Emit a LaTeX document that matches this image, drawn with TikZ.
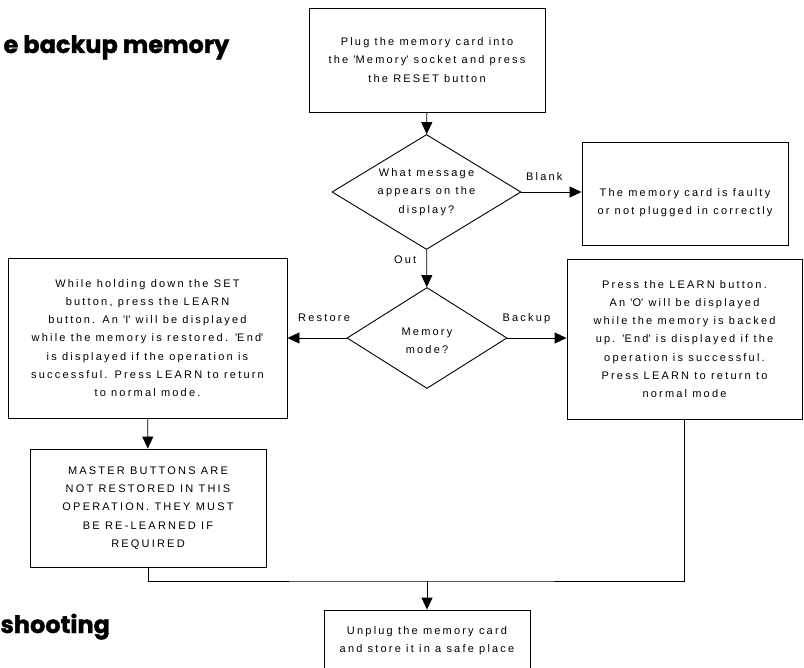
\documentclass[tikz,border=0pt]{standalone}
\usepackage{fontspec}
\setmainfont{Liberation Sans}[LetterSpace=20]
\newfontfamily\headfont{Poppins}[BoldFeatures={FakeBold=1.5}]
\usetikzlibrary{shapes.geometric,arrows.meta}

\begin{document}
\begin{tikzpicture}[x=1pt, y=-1pt,
    every node/.style={font=\fontsize{11}{18.3}\selectfont},
    stepbox/.style={draw, line width=0.9pt, align=center, inner sep=0pt},
    decision/.style={draw, diamond, line width=0.9pt, inner sep=0pt},
    flow/.style={line width=0.9pt, -{Triangle[length=12pt, width=11pt]}},
    lbl/.style={inner sep=0pt},
    heading/.style={font=\headfont\bfseries\fontsize{24}{28}\selectfont, anchor=base west}]
    \clip (0,0) rectangle (804,668);
    \node[heading] (title) at (0,53) {e backup memory};
    \node[heading] (trouble) at (-3,633) {shooting};

    \node[stepbox, minimum width=236, minimum height=104] (plug) at (427,60)
      {Plug the memory card into\\the \textquotesingle Memory\textquotesingle{} socket and press\\the RESET button};
    \node[decision, minimum width=189, minimum height=115,
      label={[align=center]center:What message\\appears on the\\display?}] (msg) at (426.5,192) {};
    \node[stepbox, minimum width=206, minimum height=103,
      label={[align=center, yshift=-9pt]center:The memory card is faulty\\or not plugged in correctly}] (faulty) at (685,193.5) {};
    \node[decision, minimum width=160, minimum height=101,
      label={[align=center, yshift=-3pt]center:Memory\\mode?}] (mode) at (427,338) {};
    \node[stepbox, minimum width=279, minimum height=160] (restore) at (147.5,338)
      {While holding down the SET\\button, press the LEARN\\button. An \textquotesingle I\textquotesingle{} will be displayed\\while the memory is restored. \textquotesingle End\textquotesingle\\is displayed if the operation is\\successful. Press LEARN to return\\to normal mode.};
    \node[stepbox, minimum width=235, minimum height=160] (backup) at (684.5,339)
      {Press the LEARN button.\\An \textquotesingle O\textquotesingle{} will be displayed\\while the memory is backed\\up. \textquotesingle End\textquotesingle{} is displayed if the\\operation is successful.\\Press LEARN to return to\\normal mode};
    \node[stepbox, minimum width=236, minimum height=118] (master) at (148,508)
      {MASTER BUTTONS ARE\\NOT RESTORED IN THIS\\OPERATION. THEY MUST\\BE RE-LEARNED IF\\REQUIRED};
    \node[stepbox, minimum width=206, minimum height=61] (unplug) at (427,640.5)
      {Unplug the memory card\\and store it in a safe place};
    \coordinate (merge) at (427,581);

    \draw[flow] (plug) -- (msg);
    \draw[flow] (msg.east) -- node[lbl, above=11pt, pos=.38] {Blank} (msg.east -| faulty.west);
    \draw[flow] (msg) -- node[lbl, left=10pt, pos=.26] {Out} (mode);
    \draw[flow] (mode.west) -- node[lbl, above=16pt, pos=.38] {Restore} (restore.east);
    \draw[flow] (mode.east) -- node[lbl, above=14pt, pos=.32] {Backup} (mode.east -| backup.west);
    \draw[flow] (restore) -- (master);
    \draw[line width=0.9pt] (master.south) |- (merge) -| (backup.south);
    \draw[flow] (merge) -- (unplug);
\end{tikzpicture}
\end{document}
